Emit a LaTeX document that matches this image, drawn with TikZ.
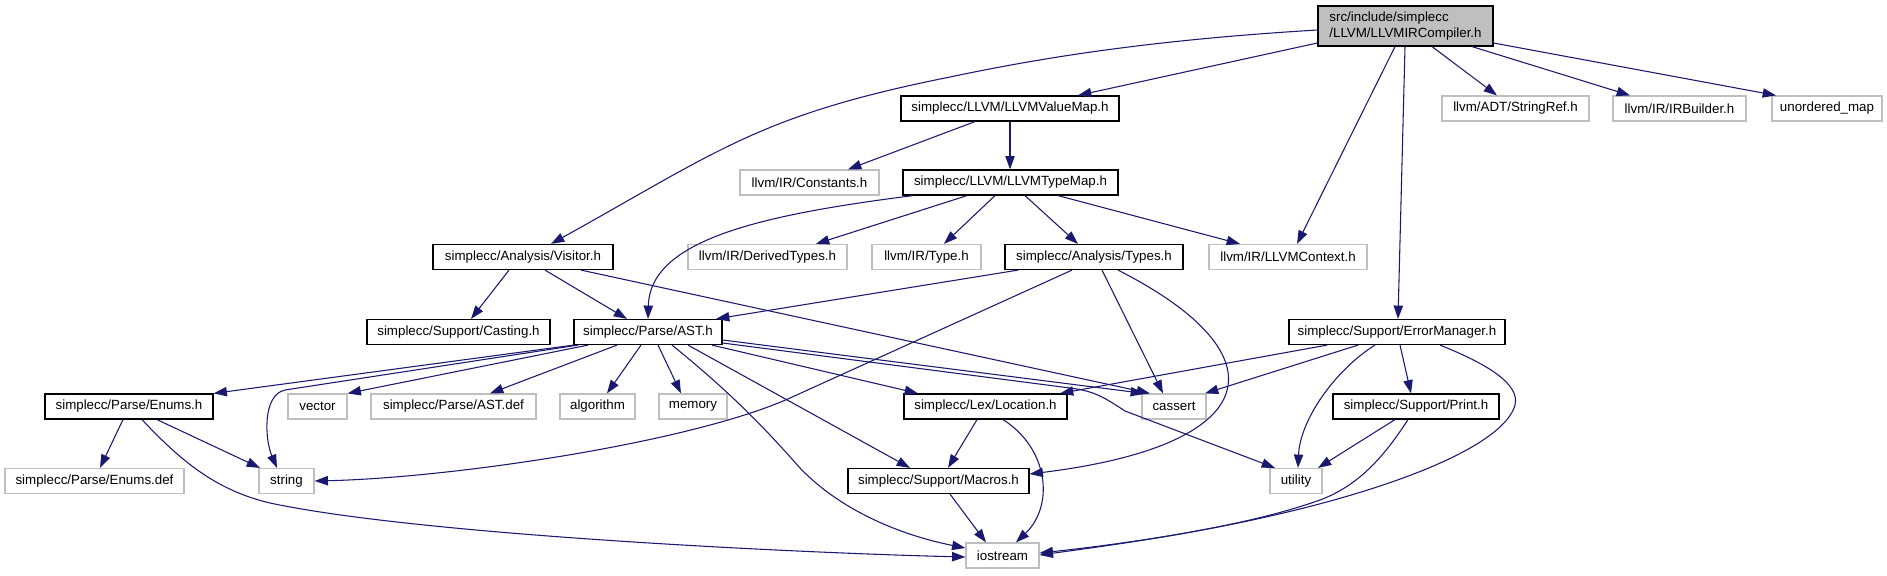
\documentclass[tikz,border=0pt]{standalone}
\usepackage{fontspec}
\setmainfont{Liberation Sans}
\usetikzlibrary{arrows.meta}
\definecolor{edgec}{HTML}{191970}
\definecolor{extc}{HTML}{BFBFBF}
\definecolor{rootfill}{HTML}{BFBFBF}
\begin{document}
\begin{tikzpicture}[x=0.75pt,y=-0.75pt,
  nd/.style={inner sep=0pt, minimum height=18.75pt, font=\fontsize{10}{11.5}\selectfont, line width=0.9pt, fill=white},
  blk/.style={nd, draw=black},
  ext/.style={nd, draw=extc},
  bw/.style={minimum width=#1*0.75pt},
  e/.style={draw=edgec, line width=0.8pt, -{Triangle[length=10pt,width=7pt]}}
]
\useasboundingbox (0,0) rectangle (1887,575);

% nodes
\node[blk, fill=rootfill, bw=175, minimum height=30pt, align=left] (root) at (1405.5,26) {src/include/simplecc\\/LLVM/LLVMIRCompiler.h};
\node[blk,bw=218] (vm) at (1010,108.5) {simplecc/LLVM/LLVMValueMap.h};
\node[ext,bw=147] (sref) at (1515.5,108.5) {llvm/ADT/StringRef.h};
\node[ext,bw=133] (irb) at (1679.5,108.5) {llvm/IR/IRBuilder.h};
\node[ext,bw=110] (umap) at (1827,108.5) {unordered\_map};
\node[ext,bw=139] (const) at (809.5,182.5) {llvm/IR/Constants.h};
\node[blk,bw=215] (tm) at (1010.5,182.5) {simplecc/LLVM/LLVMTypeMap.h};
\node[blk,bw=180] (vis) at (523,257) {simplecc/Analysis/Visitor.h};
\node[ext,bw=159] (dt) at (767.5,257) {llvm/IR/DerivedTypes.h};
\node[ext,bw=109] (type) at (926.5,257) {llvm/IR/Type.h};
\node[blk,bw=178] (types) at (1094,257) {simplecc/Analysis/Types.h};
\node[ext,bw=158] (ctx) at (1288,257) {llvm/IR/LLVMContext.h};
\node[blk,bw=183] (cast) at (458.5,332) {simplecc/Support/Casting.h};
\node[blk,bw=148] (ast) at (648,332) {simplecc/Parse/AST.h};
\node[blk,bw=216] (em) at (1397,332) {simplecc/Support/ErrorManager.h};
\node[blk,bw=168] (enums) at (129,406.5) {simplecc/Parse/Enums.h};
\node[ext,bw=59] (vec) at (317.5,406.5) {vector};
\node[ext,bw=165] (astdef) at (453.5,406.5) {simplecc/Parse/AST.def};
\node[ext,bw=75] (algo) at (597.5,406.5) {algorithm};
\node[ext,bw=68] (mem) at (693,406.5) {memory};
\node[blk,bw=163] (loc) at (985.5,406.5) {simplecc/Lex/Location.h};
\node[ext,bw=64] (cas) at (1174,406.5) {cassert};
\node[blk,bw=166] (print) at (1416,406.5) {simplecc/Support/Print.h};
\node[ext,bw=179] (edef) at (94.5,481) {simplecc/Parse/Enums.def};
\node[ext,bw=55] (str) at (286.5,481) {string};
\node[blk,bw=181] (mac) at (938.5,481) {simplecc/Support/Macros.h};
\node[ext,bw=52] (util) at (1296,481) {utility};
\node[ext,bw=73] (ios) at (1002.5,555.5) {iostream};

% root edges
\draw[e] (root.west |- 0,30) .. controls (1150,40) and (1040,58) .. (950,77) .. controls (760,115) and (720,150) .. (551,0 |- vis.north);
\draw[e] (root.west |- 0,43) -- (1078,0 |- vm.north);
\draw[e] (1395,0 |- root.south) -- (1297,0 |- ctx.north);
\draw[e] (1405,0 |- root.south) -- (1398,0 |- em.north);
\draw[e] (1432,0 |- root.south) -- (1497,0 |- sref.north);
\draw[e] (1472,0 |- root.south) -- (1630,0 |- irb.north);
\draw[e] (root.east |- 0,43) -- (1776,0 |- umap.north);

% value map / type map
\draw[e] (975,0 |- vm.south) -- (848,0 |- const.north);
\draw[e] (1010,0 |- vm.south) -- (1010,0 |- tm.north);
\draw[e] (913,0 |- tm.south) .. controls (760,215) and (650,240) .. (648,0 |- ast.north);
\draw[e] (967,0 |- tm.south) -- (816,0 |- dt.north);
\draw[e] (995,0 |- tm.south) -- (944,0 |- type.north);
\draw[e] (1025,0 |- tm.south) -- (1078,0 |- types.north);
\draw[e] (1058,0 |- tm.south) -- (1240,0 |- ctx.north);

% visitor
\draw[e] (509,0 |- vis.south) -- (471,0 |- cast.north);
\draw[e] (545,0 |- vis.south) -- (627,0 |- ast.north);
\draw[e] (581,0 |- vis.south) -- (1150,0 |- cas.north);

% types
\draw[e] (1018,0 |- types.south) -- (716,0 |- ast.north);
\draw[e] (1072,0 |- types.south) -- (790,398) .. controls (690,443) and (450,478) .. (str.east);
\draw[e] (1102,0 |- types.south) -- (1163,0 |- cas.north);
\draw[e] (1118,0 |- types.south) .. controls (1285,355) and (1265,445) .. (mac.east |- 0,474);

% AST
\draw[e] (ast.south west) -- (enums.north east);
\draw[e] (578,0 |- ast.south) -- (285,390) .. controls (262,395) and (265,440) .. (277,0 |- str.north);
\draw[e] (588,0 |- ast.south) -- (vec.north east);
\draw[e] (617,0 |- ast.south) -- (490,0 |- astdef.north);
\draw[e] (641,0 |- ast.south) -- (607,0 |- algo.north);
\draw[e] (658,0 |- ast.south) -- (681,0 |- mem.north);
\draw[e] (712,0 |- ast.south) -- (918,0 |- loc.north);
\draw[e] (688,0 |- ast.south) -- (910,0 |- mac.north);
\draw[e] (672,0 |- ast.south) .. controls (740,400) and (775,440) .. (800,468) .. controls (840,510) and (900,535) .. (ios.west |- 0,548);
\draw[e] (ast.east |- 0,340) -- (1144,0 |- cas.north);
\draw[e] (ast.east |- 0,343) -- (1070,388) .. controls (1095,391) and (1105,398) .. (1125,411) -- (1275,0 |- util.north);

% enums
\draw[e] (123,0 |- enums.south) -- (100,0 |- edef.north);
\draw[e] (157,0 |- enums.south) -- (260,0 |- str.north);
\draw[e] (142,0 |- enums.south) .. controls (180,460) and (215,490) .. (270,503) .. controls (420,535) and (800,553) .. (ios.west |- 0,557);

% location / macros
\draw[e] (977,0 |- loc.south) -- (948,0 |- mac.north);
\draw[e] (1003,0 |- loc.south) .. controls (1048,448) and (1055,505) .. (1016,0 |- ios.north);
\draw[e] (950,0 |- mac.south) -- (986,0 |- ios.north);

% error manager
\draw[e] (1327,0 |- em.south) -- (1060,0 |- loc.north);
\draw[e] (1358,0 |- em.south) -- (1205,0 |- cas.north);
\draw[e] (1375,0 |- em.south) .. controls (1335,370) and (1300,420) .. (1298,0 |- util.north);
\draw[e] (1400,0 |- em.south) -- (1411,0 |- print.north);
\draw[e] (1440,0 |- em.south) .. controls (1490,365) and (1520,385) .. (1515,405) .. controls (1500,460) and (1300,525) .. (ios.east |- 0,553);

% print
\draw[e] (1395,0 |- print.south) -- (1318,0 |- util.north);
\draw[e] (1408,0 |- print.south) .. controls (1385,455) and (1360,485) .. (1320,500) .. controls (1250,525) and (1150,540) .. (ios.east |- 0,555);
\end{tikzpicture}
\end{document}
